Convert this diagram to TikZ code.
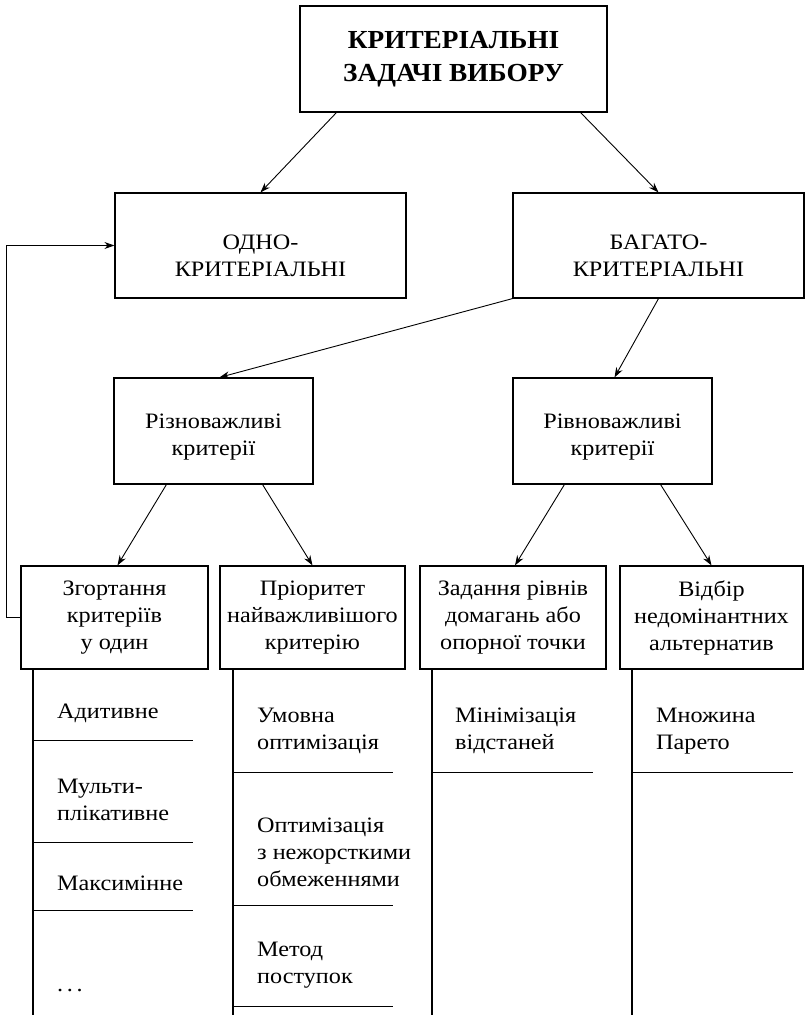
\documentclass[tikz,border=0pt]{standalone}
\usepackage{fontspec}
\setmainfont{Liberation Serif}[FakeStretch=1.1]
\newfontfamily\headfont{Liberation Serif}[FakeStretch=1.05]
\usetikzlibrary{arrows.meta,calc}

\begin{document}
\begin{tikzpicture}[x=1pt,y=-1pt,
  txt/.style={font=\fontsize{22}{27}\selectfont},
  box/.style={draw, line width=1.2pt, align=center, inner sep=0pt, txt},
  label/.style={align=center, inner sep=0pt, txt},
  arr/.style={line width=0.9pt, -{Stealth[length=10pt,width=7pt]}},
  stem/.style={line width=2pt},
  sep/.style={line width=1pt},
  item/.style={anchor=west, align=left, inner sep=0pt, txt}]
\useasboundingbox (0,0) rectangle (805,1015);

% level 0
\node[box, minimum width=307, minimum height=106,
      font=\headfont\bfseries\fontsize{26}{32.5}\selectfont]
  (top) at (453.5,59) {КРИТЕРІАЛЬНІ\\ЗАДАЧІ ВИБОРУ};

% level 1: frames, and their captions set a little below centre
\node[box, minimum width=291, minimum height=105] (odno)   at (260.5,245.5) {};
\node[box, minimum width=291, minimum height=105] (bagato) at (658.5,245.5) {};
\node[label] (odnoT)   at (260.5,255.5) {ОДНО-\\КРИТЕРІАЛЬНІ};
\node[label] (bagatoT) at (658.5,255.5) {БАГАТО-\\КРИТЕРІАЛЬНІ};

% level 2
\node[box, minimum width=199, minimum height=106] (rizno) at (213.5,431) {};
\node[box, minimum width=199, minimum height=106] (rivno) at (612.5,431) {};
\node[label] (riznoT) at (213.5,437) {Різноважливі\\критерії};
\node[label] (rivnoT) at (612.5,437) {Рівноважливі\\критерії};

% level 3
\node[box, minimum width=187, minimum height=103] (zg) at (114.5,617.5) {Згортання\\критеріїв\\у один};
\node[box, minimum width=185, minimum height=103] (pr) at (312.5,617.5) {Пріоритет\\найважливішого\\критерію};
\node[box, minimum width=186, minimum height=103] (zd) at (513,617.5)   {Задання рівнів\\домагань або\\опорної точки};
\node[box, minimum width=183, minimum height=103] (vb) at (711.5,617.5) {Відбір\\недомінантних\\альтернатив};

% connectors
\draw[arr] ([xshift=37]top.south west) -- (odno.north);
\draw[arr] ([xshift=-27]top.south east) -- (bagato.north);
\draw[arr] (bagato.south west) -- ([xshift=6]rizno.north);
\draw[arr] (bagato.south) -- ([xshift=2]rivno.north);
\draw[arr] ([xshift=53]rizno.south west) -- ([xshift=3]zg.north);
\draw[arr] ([xshift=-51]rizno.south east) -- (pr.north);
\draw[arr] ([xshift=52]rivno.south west) -- ([xshift=2]zd.north);
\draw[arr] ([xshift=-52]rivno.south east) -- (vb.north);
\draw[arr] (zg.west) -- ++(-14,0) |- (odno.west);

% method lists under the level-3 boxes
\draw[stem] ([xshift=13]zg.south west) -- ++(0,346);
\draw[stem] ([xshift=14]pr.south west) -- ++(0,346);
\draw[stem] ([xshift=13]zd.south west) -- ++(0,346);
\draw[stem] ([xshift=13]vb.south west) -- ++(0,346);

\draw[sep] (34,740) -- ++(159,0);
\draw[sep] (34,842) -- ++(159,0);
\draw[sep] (34,910) -- ++(159,0);

\draw[sep] (234,772) -- ++(159,0);
\draw[sep] (234,905) -- ++(159,0);
\draw[sep] (234,1006) -- ++(159,0);

\draw[sep] (433,772) -- ++(160,0);
\draw[sep] (633,772) -- ++(160,0);

\node[item] (a1) at (57,713) {Адитивне};
\node[item] (a2) at (57,800) {Мульти-\\плікативне};
\node[item] (a3) at (57,883) {Максимінне};
\node[item] (a4) at (57,990) {.\,.\,.};

\node[item] (b1) at (257,731) {Умовна\\оптимізація};
\node[item] (b2) at (257,852) {Оптимізація\\з нежорсткими\\обмеженнями};
\node[item] (b3) at (257,965) {Метод\\поступок};

\node[item] (c1) at (455,731) {Мінімізація\\відстаней};
\node[item] (d1) at (656,731) {Множина\\Парето};
\end{tikzpicture}
\end{document}
